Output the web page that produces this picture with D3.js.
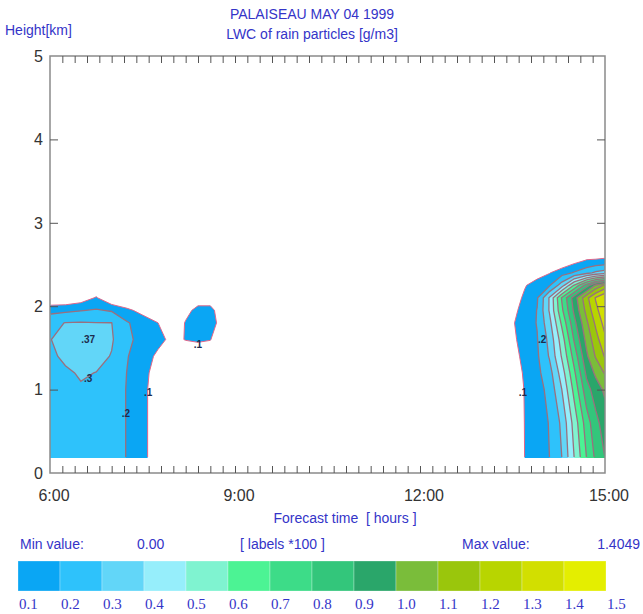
<!DOCTYPE html>
<html>
<head>
<meta charset="utf-8">
<script src="https://cdn.jsdelivr.net/npm/d3@7"></script>
<style>
  body { margin: 0; background: #fff; }
  text { font-family: "Liberation Sans", Arial, sans-serif; }
</style>
</head>
<body>
<div id="chart"></div>
<script>
// forecast times (hours) of the grid columns
const times = [6.0, 6.25, 6.5, 6.75, 7.0, 7.25, 7.5, 7.75, 8.0, 8.2, 8.4, 8.6, 8.8, 9.0,
               13.3, 13.5, 13.7, 13.9, 14.1, 14.3, 14.5, 14.7, 14.85, 15.0];
// heights (km) of the grid rows
const heights = [0.18, 0.6, 1.0, 1.2, 1.4, 1.6, 1.8, 1.95, 2.1, 2.25, 2.4, 2.55, 2.7];
// LWC of rain (g/m3), one row per height, one value per time
const lwcRows = [
  [0.27, 0.27, 0.27, 0.26, 0.25, 0.195, 0.12, 0.06, 0, 0, 0, 0, 0, 0,     0, 0, 0.102, 0.15, 0.2, 0.3, 0.5, 0.7, 0.82, 0.9],
  [0.27, 0.27, 0.27, 0.26, 0.25, 0.195, 0.12, 0.06, 0, 0, 0, 0, 0, 0,     0, 0, 0.104, 0.155, 0.205, 0.32, 0.54, 0.75, 0.87, 0.95],
  [0.27, 0.28, 0.29, 0.285, 0.25, 0.195, 0.12, 0.06, 0, 0, 0, 0, 0, 0,    0, 0, 0.108, 0.16, 0.23, 0.4, 0.63, 0.86, 0.95, 1.02],
  [0.27, 0.285, 0.31, 0.298, 0.26, 0.198, 0.13, 0.06, 0, 0, 0, 0, 0, 0,   0, 0.02, 0.12, 0.175, 0.26, 0.45, 0.68, 0.92, 1.02, 1.11],
  [0.28, 0.32, 0.34, 0.33, 0.295, 0.205, 0.15, 0.08, 0, 0, 0, 0, 0, 0,    0, 0.06, 0.13, 0.185, 0.31, 0.51, 0.74, 0.98, 1.11, 1.21],
  [0.295, 0.35, 0.37, 0.36, 0.31, 0.22, 0.17, 0.13, 0.07, 0.105, 0.12, 0.105, 0, 0,  0, 0.08, 0.14, 0.195, 0.33, 0.55, 0.81, 1.03, 1.16, 1.28],
  [0.27, 0.303, 0.306, 0.302, 0.301, 0.21, 0.15, 0.101, 0, 0.11, 0.13, 0.13, 0.07, 0, 0, 0.09, 0.15, 0.205, 0.37, 0.62, 0.87, 1.08, 1.22, 1.34],
  [0.17, 0.18, 0.195, 0.21, 0.19, 0.12, 0.07, 0, 0, 0.06, 0.14, 0.14, 0.02, 0,     0, 0.07, 0.14, 0.203, 0.41, 0.68, 0.92, 1.13, 1.27, 1.38],
  [0, 0, 0.04, 0.11, 0, 0, 0, 0, 0, 0, 0.03, 0.03, 0, 0,                  0, 0.03, 0.125, 0.19, 0.41, 0.71, 0.95, 1.17, 1.31, 1.4049],
  [0, 0, 0, 0, 0, 0, 0, 0, 0, 0, 0, 0, 0, 0,                              0, 0, 0.09, 0.16, 0.19, 0.35, 0.61, 0.85, 1.02, 1.12],
  [0, 0, 0, 0, 0, 0, 0, 0, 0, 0, 0, 0, 0, 0,                              0, 0, 0, 0.04, 0.095, 0.16, 0.21, 0.27, 0.32, 0.35],
  [0, 0, 0, 0, 0, 0, 0, 0, 0, 0, 0, 0, 0, 0,                              0, 0, 0, 0, 0, 0, 0.06, 0.105, 0.11, 0.12],
  [0, 0, 0, 0, 0, 0, 0, 0, 0, 0, 0, 0, 0, 0,                              0, 0, 0, 0, 0, 0, 0, 0, 0, 0]
];

const levels = [0.1, 0.2, 0.3, 0.4, 0.5, 0.6, 0.7, 0.8, 0.9, 1.0, 1.1, 1.2, 1.3, 1.4];
const levelColors = ["#0aa6f4", "#2ec2fb", "#62d6f8", "#96eefb", "#7ff3d0", "#4cf394",
                     "#3ddc88", "#33c67b", "#2aa66a", "#7abd3a", "#9ac60c", "#b8d500",
                     "#d2df00", "#e4ee00"];
const legendLabels = ["0.1", "0.2", "0.3", "0.4", "0.5", "0.6", "0.7", "0.8",
                      "0.9", "1.0", "1.1", "1.2", "1.3", "1.4", "1.5"];

const xTickValues = [6, 9, 12, 15];
const xTickLabels = ["6:00", "9:00", "12:00", "15:00"];
const yTickValues = [0, 1, 2, 3, 4, 5];

const contourLabels = [
  { text: ".37", t: 6.62, h: 1.60 },
  { text: ".3",  t: 6.62, h: 1.13 },
  { text: ".2",  t: 7.23, h: 0.71 },
  { text: ".1",  t: 7.59, h: 0.97 },
  { text: ".1",  t: 8.40, h: 1.54 },
  { text: ".2",  t: 13.98, h: 1.60 },
  { text: ".1",  t: 13.67, h: 0.96 }
];

const width = 643, height = 614;
const plot = { left: 50, right: 605, top: 56, bottom: 473 };
const blue = "#3434c8";

const svg = d3.select("#chart").append("svg")
  .attr("width", width)
  .attr("height", height);

const x = d3.scaleLinear().domain([6, 15]).range([plot.left, plot.right]);
const y = d3.scaleLinear().domain([0, 5]).range([plot.bottom, plot.top]);

// grid index -> data value (piecewise, grid is not uniform)
const colToTime = d3.scaleLinear().domain(d3.range(times.length)).range(times);
const rowToHeight = d3.scaleLinear().domain(d3.range(heights.length)).range(heights);

const nx = times.length, ny = heights.length;
const flat = [].concat(...lwcRows);
const contours = d3.contours().size([nx, ny]).thresholds(levels)(flat);

const proj = d3.geoTransform({
  point: function(px, py) {
    const ci = Math.max(0, Math.min(nx - 1, px - 0.5));
    const ri = Math.max(0, Math.min(ny - 1, py - 0.5));
    this.stream.point(x(colToTime(ci)), y(rowToHeight(ri)));
  }
});
const path = d3.geoPath(proj);

// filled bands
svg.append("g")
  .selectAll("path")
  .data(contours)
  .join("path")
  .attr("d", path)
  .attr("fill", (d, i) => levelColors[i])
  .attr("fill-rule", "evenodd");

// contour lines, clipped so the grid border is not outlined
svg.append("clipPath").attr("id", "inner")
  .append("rect")
  .attr("x", x(times[0]) + 1)
  .attr("y", plot.top)
  .attr("width", x(times[nx - 1]) - x(times[0]) - 2)
  .attr("height", y(heights[0]) - plot.top - 1);

svg.append("g")
  .attr("clip-path", "url(#inner)")
  .selectAll("path")
  .data(contours)
  .join("path")
  .attr("d", path)
  .attr("fill", "none")
  .attr("stroke", (d, i) => i === 0 ? "#e2668a" : "#9a707e")
  .attr("stroke-width", (d, i) => i === 0 ? 1 : 1.3);

// contour labels
svg.append("g")
  .selectAll("text")
  .data(contourLabels)
  .join("text")
  .attr("x", d => x(d.t))
  .attr("y", d => y(d.h))
  .attr("dy", "0.35em")
  .attr("text-anchor", "middle")
  .style("font-size", "10px")
  .style("font-weight", "bold")
  .style("fill", "#1d2c4c")
  .text(d => d.text);

// frame
svg.append("rect")
  .attr("x", plot.left)
  .attr("y", plot.top)
  .attr("width", plot.right - plot.left)
  .attr("height", plot.bottom - plot.top)
  .attr("fill", "none")
  .attr("stroke", "#8a8a8a")
  .attr("stroke-width", 1.5);

// minor ticks every 12 minutes, pointing inward
const minorTicks = d3.range(6.2, 14.9, 0.2);
const axisStyle = g => {
  g.select(".domain").remove();
  g.selectAll("line").attr("stroke", "#555").attr("stroke-width", 1);
};
svg.append("g")
  .attr("transform", `translate(0,${plot.bottom})`)
  .call(d3.axisBottom(x).tickValues(minorTicks).tickSize(-7).tickFormat(""))
  .call(axisStyle);
svg.append("g")
  .attr("transform", `translate(0,${plot.top})`)
  .call(d3.axisTop(x).tickValues(minorTicks).tickSize(-7).tickFormat(""))
  .call(axisStyle);
svg.append("g")
  .attr("transform", `translate(${plot.left},0)`)
  .call(d3.axisLeft(y).tickValues([1, 2, 3, 4]).tickSize(-8).tickFormat(""))
  .call(axisStyle);
svg.append("g")
  .attr("transform", `translate(${plot.right},0)`)
  .call(d3.axisRight(y).tickValues([1, 2, 3, 4]).tickSize(-8).tickFormat(""))
  .call(axisStyle);

// tick labels
svg.append("g")
  .selectAll("text")
  .data(yTickValues)
  .join("text")
  .attr("x", plot.left - 7)
  .attr("y", d => y(d))
  .attr("dy", "0.36em")
  .attr("text-anchor", "end")
  .style("font-size", "16px")
  .style("fill", "#333")
  .text(d => d);

svg.append("g")
  .selectAll("text")
  .data(xTickValues)
  .join("text")
  .attr("x", d => x(d) + 4)
  .attr("y", 501)
  .attr("text-anchor", "middle")
  .style("font-size", "16px")
  .style("fill", "#333")
  .text((d, i) => xTickLabels[i]);

// titles
const label = (tx, ty, str, anchor, size) => svg.append("text")
  .attr("x", tx).attr("y", ty)
  .attr("text-anchor", anchor || "start")
  .style("font-size", (size || 14) + "px")
  .style("fill", blue)
  .style("white-space", "pre")
  .text(str);

label(312, 19, "PALAISEAU MAY 04 1999", "middle");
label(312, 39, "LWC of rain particles [g/m3]", "middle");
label(5, 35, "Height[km]");
label(345, 523, "Forecast time  [ hours ]", "middle");
label(20, 549, "Min value:");
label(137, 549, "0.00");
label(240, 549, "[ labels *100 ]");
label(462, 549, "Max value:");
label(640, 549, "1.4049", "end");

// colour bar
const boxW = 42;
const legendX = d3.scaleLinear().domain([0, levels.length]).range([18, 18 + boxW * levels.length]);
svg.append("g")
  .selectAll("rect")
  .data(levelColors)
  .join("rect")
  .attr("x", (d, i) => legendX(i))
  .attr("y", 561)
  .attr("width", boxW)
  .attr("height", 30)
  .attr("fill", d => d)
  .attr("stroke", "#ffffff")
  .attr("stroke-opacity", 0.35)
  .attr("stroke-width", 0.8);

svg.append("g")
  .selectAll("text")
  .data(legendLabels)
  .join("text")
  .attr("x", (d, i) => legendX(i) + 1)
  .attr("y", 609)
  .style("font-family", "'Liberation Serif', 'Times New Roman', serif")
  .style("font-size", "15px")
  .style("fill", blue)
  .text(d => d);
</script>
</body>
</html>
